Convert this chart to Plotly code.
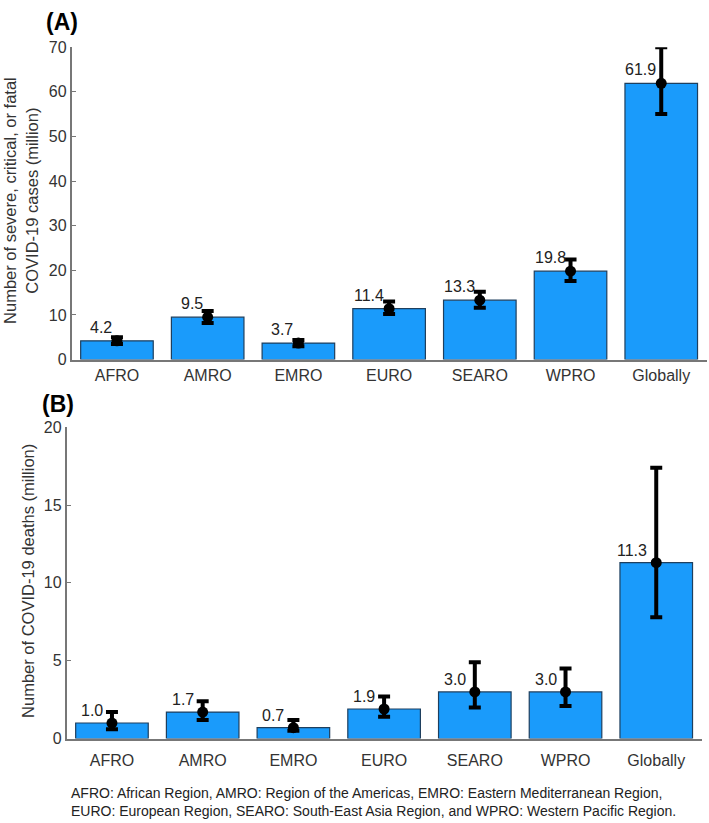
import plotly.graph_objects as go

regions = ["AFRO", "AMRO", "EMRO", "EURO", "SEARO", "WPRO", "Globally"]

cases = [4.2, 9.5, 3.7, 11.4, 13.3, 19.8, 61.9]
cases_lo = [3.5, 8.2, 3.0, 10.2, 11.6, 17.6, 55.0]
cases_hi = [5.0, 10.9, 4.4, 13.0, 15.2, 22.4, 70.0]

deaths = [1.0, 1.7, 0.7, 1.9, 3.0, 3.0, 11.3]
deaths_lo = [0.6, 1.2, 0.5, 1.4, 2.0, 2.1, 7.8]
deaths_hi = [1.7, 2.4, 1.2, 2.7, 4.9, 4.5, 17.4]

caption = ("AFRO: African Region, AMRO: Region of the Americas, EMRO: Eastern Mediterranean Region,<br>"
           "EURO: European Region, SEARO: South-East Asia Region, and WPRO: Western Pacific Region.")

W, H = 709, 823
FONT = "Liberation Sans, Arial, sans-serif"
BAR = "#1a9bfb"
EDGE = "#1e3f5e"
AX = "#777777"
TXT = "#333333"

def px_x(p):
    return p / W

def px_y(p):
    return 1 - p / H

fig = go.Figure()

panels = [
    dict(vals=cases, lo=cases_lo, hi=cases_hi, xa="x", ya="y", fmt="{:.1f}", xshift=-3, yshift=3,
         xdom=[71.6, 706.6], ydom=[359, 40], yr=[0, 70], dtick=10, standoff=0),
    dict(vals=deaths, lo=deaths_lo, hi=deaths_hi, xa="x2", ya="y2", fmt="{:.1f}", xshift=-7, yshift=2,
         xdom=[66.6, 701.6], ydom=[746, 428], yr=[0, 20], dtick=5, standoff=6),
]

idx = list(range(len(regions)))
for p in panels:
    fig.add_trace(go.Bar(x=idx, y=p["vals"], width=0.8, marker=dict(color=BAR, line=dict(color=EDGE, width=1.2)),
                         xaxis=p["xa"], yaxis=p["ya"], showlegend=False, hoverinfo="skip"))
    fig.add_trace(go.Scatter(
        x=idx, y=p["vals"], mode="markers", xaxis=p["xa"], yaxis=p["ya"], showlegend=False,
        marker=dict(color="black", size=11),
        error_y=dict(type="data", symmetric=False,
                     array=[h - v for h, v in zip(p["hi"], p["vals"])],
                     arrayminus=[v - l for l, v in zip(p["lo"], p["vals"])],
                     color="black", thickness=4, width=6)))
    for i, v in zip(idx, p["vals"]):
        fig.add_annotation(x=i, y=v, xref=p["xa"], yref=p["ya"], text=p["fmt"].format(v),
                           showarrow=False, xanchor="right", yanchor="bottom",
                           xshift=p["xshift"], yshift=p["yshift"],
                           font=dict(family=FONT, size=16, color="#222222"))

def xaxis(dom, standoff):
    return dict(domain=[px_x(dom[0]), px_x(dom[1])], range=[-0.5, 6.5], tickmode="array",
                tickvals=idx, ticktext=regions, ticks="", showline=True, linecolor=AX, linewidth=1.5,
                showgrid=False, zeroline=False, tickfont=dict(family=FONT, size=16, color=TXT),
                ticklabelstandoff=standoff, fixedrange=True)

def yaxis(dom, yr, dtick, anchor):
    return dict(domain=[px_y(dom[0]), px_y(dom[1])], range=yr, dtick=dtick, tick0=0, ticks="inside", ticklen=5,
                tickcolor=AX, showline=True, linecolor=AX, linewidth=1.5, showgrid=False, zeroline=False,
                tickfont=dict(family=FONT, size=16, color=TXT), anchor=anchor, fixedrange=True)

fig.update_layout(
    width=W, height=H, margin=dict(l=0, r=0, t=0, b=0),
    paper_bgcolor="white", plot_bgcolor="white", bargap=0.2,
    xaxis=dict(xaxis(panels[0]["xdom"], panels[0]["standoff"]), anchor="y"),
    yaxis=yaxis(panels[0]["ydom"], panels[0]["yr"], panels[0]["dtick"], "x"),
    xaxis2=dict(xaxis(panels[1]["xdom"], panels[1]["standoff"]), anchor="y2"),
    yaxis2=yaxis(panels[1]["ydom"], panels[1]["yr"], panels[1]["dtick"], "x2"),
)

# panel letters
fig.add_annotation(x=px_x(62), y=px_y(14), xref="paper", yref="paper", text="<b>(A)</b>", showarrow=False,
                   xanchor="center", yanchor="middle", font=dict(family=FONT, size=23, color="black"))
fig.add_annotation(x=px_x(58), y=px_y(404), xref="paper", yref="paper", text="<b>(B)</b>", showarrow=False,
                   xanchor="center", yanchor="middle", font=dict(family=FONT, size=23, color="black"))

# axis titles
fig.add_annotation(x=px_x(21), y=px_y(197), xref="paper", yref="paper",
                   text="Number of severe, critical, or fatal<br>COVID-19 cases (million)", showarrow=False,
                   textangle=-90, xanchor="center", yanchor="middle",
                   font=dict(family=FONT, size=16.5, color=TXT))
fig.add_annotation(x=px_x(28), y=px_y(585), xref="paper", yref="paper",
                   text="Number of COVID-19 deaths (million)", showarrow=False,
                   textangle=-90, xanchor="center", yanchor="middle",
                   font=dict(family=FONT, size=16.5, color=TXT))

# caption
fig.add_annotation(x=px_x(69), y=px_y(811), xref="paper", yref="paper", text=caption, showarrow=False,
                   xanchor="left", yanchor="middle", align="left",
                   font=dict(family=FONT, size=14, color="#222222"))

fig.write_html("out.html")
